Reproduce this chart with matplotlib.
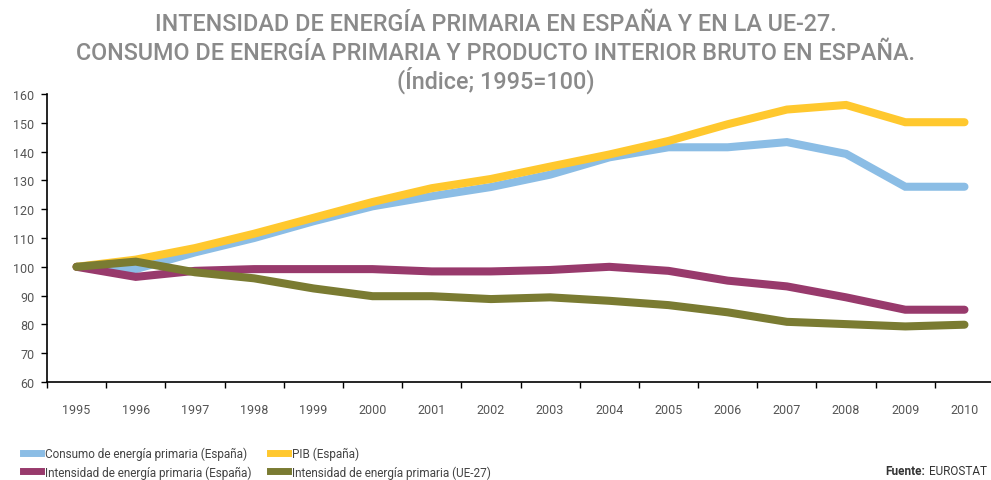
import matplotlib
matplotlib.use("Agg")
import matplotlib.pyplot as plt
from matplotlib.lines import Line2D

plt.rcParams['font.family'] = ['Roboto', 'DejaVu Sans']

years = ['1995', '1996', '1997', '1998', '1999', '2000', '2001', '2002',
         '2003', '2004', '2005', '2006', '2007', '2008', '2009', '2010']

consumo = [100, 99.2, 105, 110, 115.8, 121, 124.5, 127.7, 132, 138, 141.5, 141.5, 143.3, 139.2, 127.8, 127.8]
pib = [100, 102.5, 106.5, 111.5, 117, 122.5, 127.3, 130.5, 134.8, 139, 143.7, 149.5, 154.6, 156.2, 150.2, 150.2]
intensidad_es = [100, 96.5, 98.6, 99.2, 99.2, 99.2, 98.4, 98.4, 98.9, 100, 98.6, 95.2, 93.2, 89.4, 85.1, 85.1]
intensidad_ue = [100, 101.8, 98.1, 96, 92.5, 89.8, 89.8, 88.8, 89.4, 88.2, 86.7, 84.2, 80.9, 80.1, 79.3, 79.9]

labels = ['Consumo de energía primaria (España)', 'PIB (España)',
          'Intensidad de energía primaria (España)', 'Intensidad de energía primaria (UE-27)']
colors = ['#8BBDE5', '#FFC82E', '#983A6C', '#7A7B32']
title_lines = ['INTENSIDAD DE ENERGÍA PRIMARIA EN ESPAÑA Y EN LA UE-27.',
               'CONSUMO DE ENERGÍA PRIMARIA Y PRODUCTO INTERIOR BRUTO EN ESPAÑA.',
               '(Índice; 1995=100)']

fig = plt.figure(figsize=(9.91, 4.81), dpi=100)
ax = fig.add_axes([0.0474, 0.2037, 0.9557, 0.5988])

x = range(len(years))
for vals, c, lab in zip([consumo, pib, intensidad_es, intensidad_ue], colors, labels):
    ax.plot(x, vals, color=c, lw=5.8, solid_capstyle='round', solid_joinstyle='miter', label=lab)

ax.set_xlim(-0.5, len(years) - 0.5)
ax.set_ylim(60, 160)
ax.set_yticks(range(60, 161, 10))
ax.set_xticks(list(x))
ax.set_xticklabels(years)
ax.set_xticks([i - 0.5 for i in range(len(years) + 1)], minor=True)
ax.tick_params(axis='x', which='major', length=0, pad=15, labelsize=9, labelcolor='#555555')
ax.tick_params(axis='x', which='minor', length=4, width=1, color='black')
ax.tick_params(axis='y', length=4, width=1, pad=5, labelsize=9, labelcolor='#555555')
for s in ['top', 'right']:
    ax.spines[s].set_visible(False)
for s in ['left', 'bottom']:
    ax.spines[s].set_linewidth(1.2)

# title: one text per line so the spacing matches
for line, yb in zip(title_lines, [0.9356, 0.8753, 0.815]):
    fig.text(0.5, yb, line, ha='center', va='baseline', fontsize=16.8,
             fontweight='medium', color='#8A8A8A')

handles = [Line2D([], [], color=c, lw=5) for c in colors]
order = [0, 2, 1, 3]
fig.legend([handles[i] for i in order], [labels[i] for i in order], ncol=2,
           loc='upper left', bbox_to_anchor=(0.023, 0.07), frameon=False,
           fontsize=8.5, handlelength=1.5, handletextpad=0.35, columnspacing=1.6,
           labelspacing=0.45, labelcolor='#444444', borderpad=0, borderaxespad=0)

fig.text(0.934, 0.02, 'Fuente:', ha='right', va='center', fontsize=8.5, fontweight='bold', color='#333333')
fig.text(0.937, 0.02, 'EUROSTAT', ha='left', va='center', fontsize=8.5, color='#333333')

fig.savefig('out.png', dpi=100)
